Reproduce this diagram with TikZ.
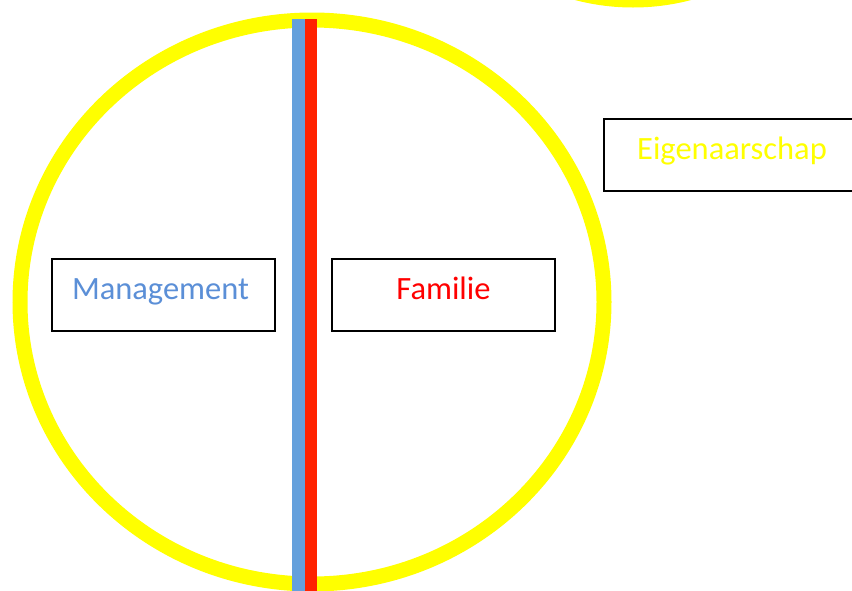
\documentclass[tikz,border=0pt]{standalone}
\usepackage{fontspec}
\setmainfont{Carlito}
\definecolor{ringyellow}{HTML}{FFFF00}
\definecolor{barblue}{HTML}{64A0DC}
\definecolor{barred}{HTML}{FF2200}
\definecolor{mgmtblue}{HTML}{5B8FD7}
\definecolor{famred}{HTML}{FF0000}
\begin{document}
\begin{tikzpicture}[x=1pt,y=-1pt,
  ring/.style={draw=ringyellow,line width=15pt},
  labelbox/.style={draw=black,line width=1.6pt,fill=white,
    minimum height=72pt,inner sep=0pt,
    font=\fontsize{32.5}{38}\selectfont,text height=20pt,text depth=11pt}]
  \useasboundingbox (0,0) rectangle (852,590);
  \clip (0,0) rectangle (852,590);
  % yellow rings
  \draw[ring] (312,302) ellipse [x radius=292,y radius=282];
  \draw[ring] (633,-220) circle [radius=220];
  % boxes
  \node[labelbox,minimum width=223pt,text=mgmtblue,
    execute at begin node={\hspace*{-6pt}}] (management) at (163.5,295) {Management};
  \node[labelbox,minimum width=223pt,text=famred] (familie) at (443.5,295) {Familie};
  \node[labelbox,minimum width=256pt,text=ringyellow] (eigenaarschap) at (732,155) {Eigenaarschap};
  % dividing bar
  \fill[barblue] (292,19) rectangle (305,600);
  \fill[barred] (305,19) rectangle (317,600);
\end{tikzpicture}
\end{document}
